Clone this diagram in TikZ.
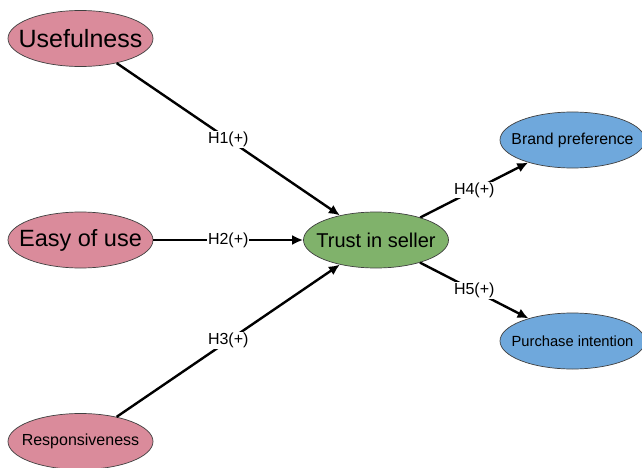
\documentclass[tikz,border=0pt]{standalone}
\usepackage{fontspec}
\setmainfont{Liberation Sans}
\usepackage{tikz}
\usetikzlibrary{shapes, arrows.meta}
\definecolor{pinkc}{RGB}{218,139,155}
\definecolor{greenc}{RGB}{128,178,107}
\definecolor{bluec}{RGB}{111,168,220}
\newcommand{\ctext}[1]{\makebox[0pt]{#1}}
\tikzstyle{construct} = [ellipse, draw=black!75, line width=0.7pt, minimum width=145pt, minimum height=56pt, inner sep=0pt]
\tikzstyle{arrow} = [line width=2.4pt, ->, >={Latex[length=11pt,width=10pt]}]
\tikzstyle{hyp} = [fill=white, inner sep=1pt, font=\fontsize{16}{18}\selectfont]

\begin{document}
\begin{tikzpicture}[x=1pt, y=-1pt, node distance=201.5pt]
        \useasboundingbox [fill=white] (0,0) rectangle (642,468);
        % constructs
        \node [construct, fill=pinkc, font=\fontsize{25}{30}\selectfont] (use) at (80.5,38.5) {\ctext{Usefulness}};
        \node [construct, fill=pinkc, below of=use, font=\fontsize{23.5}{28}\selectfont] (ease) {\ctext{Easy of use}};
        \node [construct, fill=pinkc, below of=ease, font=\fontsize{16}{19}\selectfont] (resp) {\ctext{Responsiveness}};
        \node [construct, fill=greenc, right of=ease, xshift=94pt, font=\fontsize{20}{24}\selectfont] (trust) {\ctext{Trust in seller}};
        \node [construct, fill=bluec, right of=trust, xshift=-5pt, yshift=100pt, font=\fontsize{15.8}{19}\selectfont] (brand) {\ctext{Brand preference}};
        \node [construct, fill=bluec, right of=trust, xshift=-5pt, yshift=-101pt, font=\fontsize{14.7}{18}\selectfont] (purch) {\ctext{Purchase intention}};

        % arrows
        \draw [arrow] (use) -- node [hyp] {H1(+)} (trust);
        \draw [arrow] (ease) -- node [hyp] {H2(+)} (trust);
        \draw [arrow] (resp) -- node [hyp] {H3(+)} (trust);
        \draw [arrow] (trust) -- node [hyp] {H4(+)} (brand);
        \draw [arrow] (trust) -- node [hyp] {H5(+)} (purch);
    \end{tikzpicture}
\end{document}
